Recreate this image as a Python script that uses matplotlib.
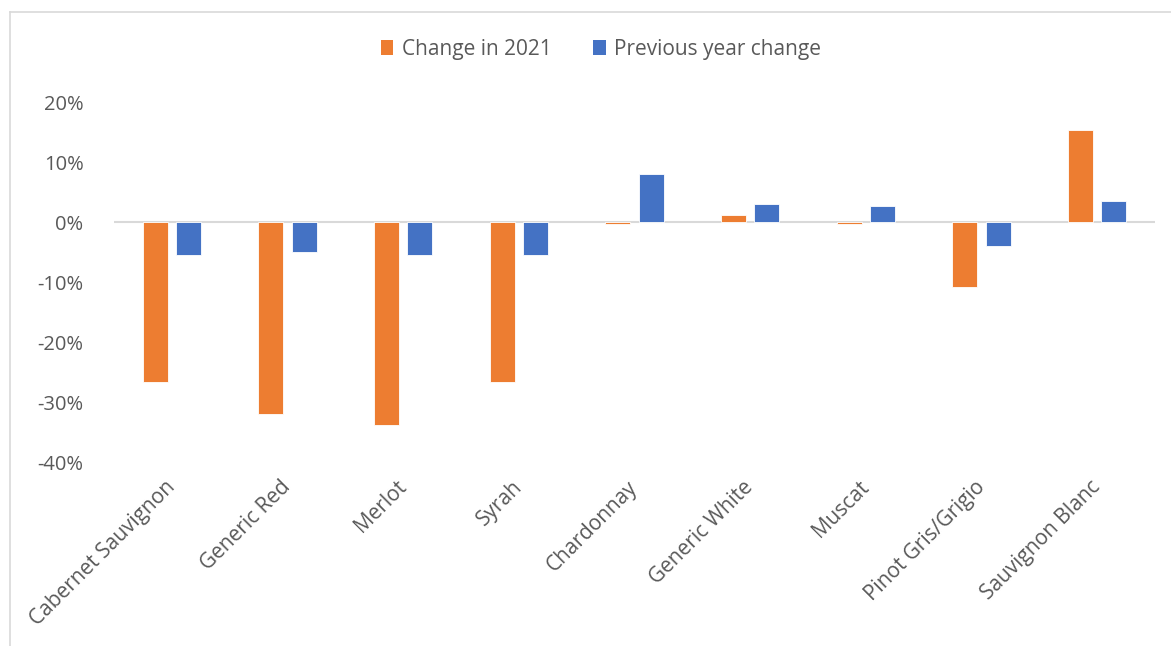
import matplotlib
matplotlib.use("Agg")
import matplotlib.pyplot as plt
import numpy as np
from matplotlib.lines import Line2D
from matplotlib.patches import Patch

categories = ["Cabernet Sauvignon", "Generic Red", "Merlot", "Syrah", "Chardonnay",
              "Generic White", "Muscat", "Pinot Gris/Grigio", "Sauvignon Blanc"]
change_2021 = [-26.7, -32.0, -33.8, -26.7, -0.3, 1.2, -0.3, -10.8, 15.3]
previous_year = [-5.5, -5.0, -5.5, -5.5, 8.0, 3.0, 2.7, -4.0, 3.5]
y_ticks = [20, 10, 0, -10, -20, -30, -40]
series_names = ["Change in 2021", "Previous year change"]

orange = "#ED7D31"
blue = "#4472C4"
text_col = "#595959"

plt.rcParams['font.family'] = ['Open Sans', 'DejaVu Sans']

fig = plt.figure(figsize=(11.71, 6.46), dpi=100)
ax = fig.add_axes([114/1171, 1-462/646, (1155-114)/1171, 360/646])

x = np.arange(len(categories))
w = 0.216
off = 0.143
ax.bar(x - off, change_2021, w, color=orange, edgecolor="white", linewidth=0.6, zorder=3)
ax.bar(x + off, previous_year, w, color=blue, edgecolor="white", linewidth=0.6, zorder=3)

ax.set_xlim(-0.5, len(categories) - 0.5)
ax.set_ylim(-40, 20)
ax.axhline(0, color="#d9d9d9", linewidth=1.5, zorder=2)

for s in ax.spines.values():
    s.set_visible(False)

ax.set_yticks(y_ticks)
ax.set_yticklabels([f"{v}%" for v in y_ticks], fontsize=14.5, color=text_col)
ax.tick_params(axis='y', length=0, pad=22)
ax.set_xticks(x)
ax.set_xticklabels(categories, fontsize=15, color=text_col, rotation=45,
                   ha='right', va='center', rotation_mode='anchor')
ax.tick_params(axis='x', length=0, pad=16)

handles = [Patch(facecolor=orange, label=series_names[0]),
           Patch(facecolor=blue, label=series_names[1])]
fig.legend(handles=handles, loc='center', bbox_to_anchor=(601/1171, 1-49/646),
           ncol=2, frameon=False, fontsize=15, labelcolor=text_col,
           handlelength=0.6, handleheight=0.7, handletextpad=0.4, columnspacing=2.0)

# chart area border (partially visible)
fig.add_artist(Line2D([10/1171, 10/1171], [0, 1-12/646], transform=fig.transFigure,
                      color="#d9d9d9", linewidth=1.2))
fig.add_artist(Line2D([10/1171, 1], [1-12/646, 1-12/646], transform=fig.transFigure,
                      color="#d9d9d9", linewidth=1.2))

fig.savefig("out.png", dpi=100)
